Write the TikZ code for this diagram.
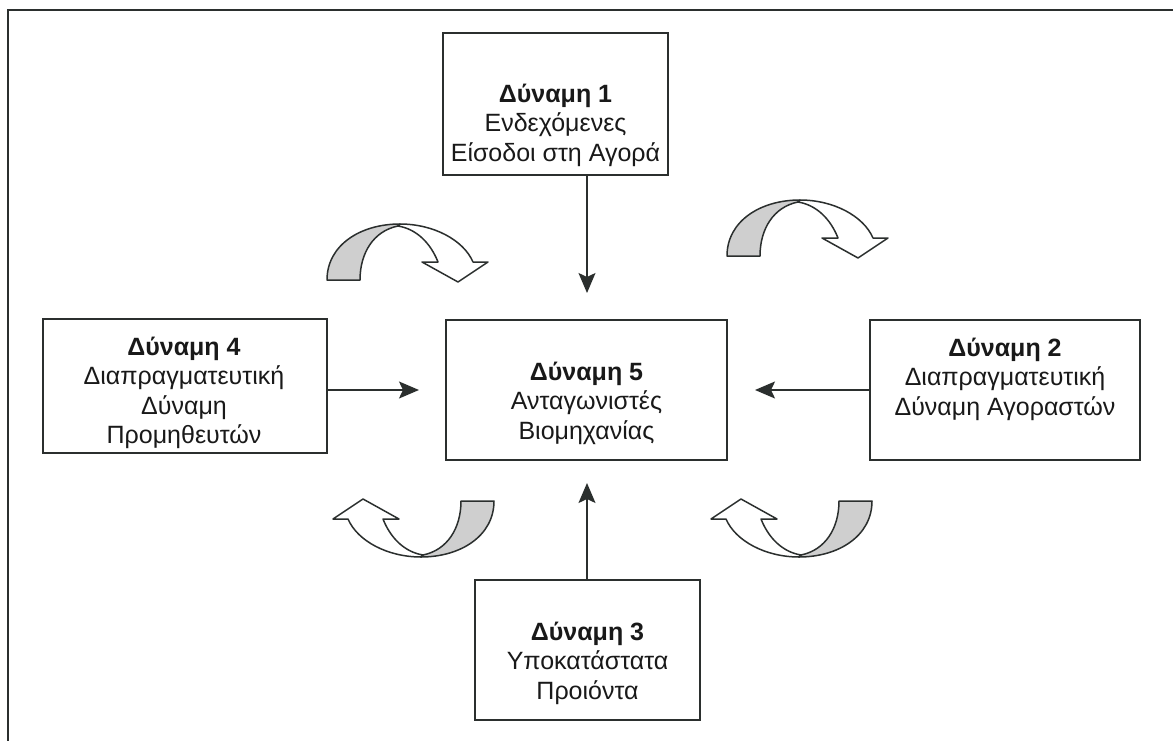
\documentclass[tikz,border=0pt]{standalone}
\usepackage{fontspec}
\setmainfont{Liberation Sans}
\usetikzlibrary{arrows.meta}
\definecolor{linec}{HTML}{2B2F2E}
\definecolor{shade}{HTML}{CFCFCF}
\begin{document}
\begin{tikzpicture}[x=1pt,y=-1pt,
  box/.style={draw=linec, line width=2pt, inner sep=0pt, fill=white},
  txt/.style={align=center, font=\fontsize{25}{29.5}\selectfont, inner sep=0pt, text=black!90},
  conn/.style={line width=1.6pt, draw=linec, -{Stealth[length=20pt,width=17pt,inset=4pt]}},
  frame/.style={line width=2pt, draw=linec},
  bandline/.style={line width=1.5pt, draw=linec, line join=round},
  curvarr/.pic={
    \filldraw[bandline, fill=shade] (-81.5,27) .. controls (-81.5,-8) and (-48,-29) .. (-8.5,-29)
      -- (-10.5,-27) .. controls (-35,-22) and (-48.5,0) .. (-48.5,27) -- cycle;
    \filldraw[bandline, fill=white] (-8.5,-29) .. controls (25,-29) and (55,-13) .. (64.5,9)
      -- (79.5,9) -- (49.5,29) -- (13.5,9) -- (29.5,9)
      .. controls (22,-10) and (8,-24) .. (-10.5,-27) -- cycle;
  }]
\useasboundingbox (0,0) rectangle (1173,741);
\fill[white] (0,0) rectangle (1173,741);
\coordinate (fa) at (8,741);
\coordinate (fb) at (8,10);
\coordinate (fc) at (1173,10);
\draw[frame] (fa) -- (fb) -- (fc);

\node[box, minimum width=225pt, minimum height=142pt] (b1) at (555.5,104) {};
\node[box, minimum width=281pt, minimum height=140pt] (b5) at (586.5,390) {};
\node[box, minimum width=284pt, minimum height=134pt] (b4) at (185,386) {};
\node[box, minimum width=270pt, minimum height=140pt] (b2) at (1005,390) {};
\node[box, minimum width=225pt, minimum height=140pt] (b3) at (587.5,650) {};

\node[txt] (t1) at (555.5,125) {\textbf{Δύναμη 1}\\Ενδεχόμενες\\Είσοδοι στη Αγορά};
\node[txt] (t5) at (586.5,403) {\textbf{Δύναμη 5}\\Ανταγωνιστές\\Βιομηχανίας};
\node[txt] (t4) at (184,393) {\textbf{Δύναμη 4}\\Διαπραγματευτική\\Δύναμη\\Προμηθευτών};
\node[txt] (t2) at (1005,379) {\textbf{Δύναμη 2}\\Διαπραγματευτική\\Δύναμη Αγοραστών};
\node[txt] (t3) at (587.5,663) {\textbf{Δύναμη 3}\\Υποκατάστατα\\Προιόντα};

\coordinate (e1) at (587,293);
\coordinate (e4) at (419,390);
\coordinate (e2) at (755,390);
\coordinate (e3) at (587,483);
\draw[conn] (b1.south -| e1) -- (e1);
\draw[conn] (b4.east |- e4) -- (e4);
\draw[conn] (b2.west |- e2) -- (e2);
\draw[conn] (b3.north -| e3) -- (e3);

\pic at (408.5,253) {curvarr};
\pic at (808.5,229) {curvarr};
\pic[rotate=180] at (412.5,528) {curvarr};
\pic[rotate=180] at (790.5,528) {curvarr};
\end{tikzpicture}
\end{document}
